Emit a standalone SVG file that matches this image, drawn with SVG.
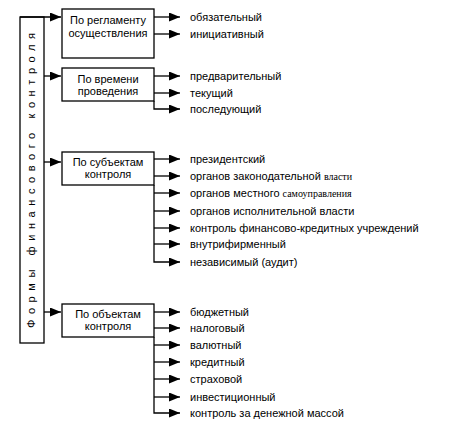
<svg xmlns="http://www.w3.org/2000/svg" width="474" height="432" viewBox="0 0 474 432">
<style>
.ln{fill:none;stroke:#000;stroke-width:1.3}
.bx{fill:#fff;stroke:#000;stroke-width:1.3}
.t{font-family:"Liberation Sans",Arial,sans-serif;font-size:11px;fill:#000}
.c{text-anchor:middle}
.s{font-family:"Liberation Serif","Times New Roman",serif;font-size:10px}
</style>
<defs>
<marker id="ar" markerUnits="userSpaceOnUse" markerWidth="12" markerHeight="10" refX="11" refY="4.5" orient="auto">
<path d="M0,0 L11,4.5 L0,9 z" fill="#000"/>
</marker>
</defs>
<g id="root">
<rect class="bx" x="20" y="17" width="24" height="326"/>
<text class="t" transform="translate(35,328) rotate(-90)" font-size="10" textLength="295" lengthAdjust="spacing">Формы финансового контроля</text>
</g>
<g id="connectors">
<path class="ln" d="M20,17 H61" marker-end="url(#ar)"/>
<path class="ln" d="M44,76 H61" marker-end="url(#ar)"/>
<path class="ln" d="M44,162 H61" marker-end="url(#ar)"/>
<path class="ln" d="M44,312 H61" marker-end="url(#ar)"/>
<path class="ln" d="M154,17 H180" marker-end="url(#ar)"/>
<path class="ln" d="M154,34 H180" marker-end="url(#ar)"/>
<path class="ln" d="M154,76 H180" marker-end="url(#ar)"/>
<path class="ln" d="M154,93 H180" marker-end="url(#ar)"/>
<path class="ln" d="M154,101 V109 H180" marker-end="url(#ar)"/>
<path class="ln" d="M154,159 H180" marker-end="url(#ar)"/>
<path class="ln" d="M154,176 H180" marker-end="url(#ar)"/>
<path class="ln" d="M154,185 V262 H180" marker-end="url(#ar)"/>
<path class="ln" d="M154,193 H180" marker-end="url(#ar)"/>
<path class="ln" d="M154,211 H180" marker-end="url(#ar)"/>
<path class="ln" d="M154,228 H180" marker-end="url(#ar)"/>
<path class="ln" d="M154,244 H180" marker-end="url(#ar)"/>
<path class="ln" d="M154,312 H180" marker-end="url(#ar)"/>
<path class="ln" d="M154,328 H180" marker-end="url(#ar)"/>
<path class="ln" d="M154,337 V413 H180" marker-end="url(#ar)"/>
<path class="ln" d="M154,345 H180" marker-end="url(#ar)"/>
<path class="ln" d="M154,362 H180" marker-end="url(#ar)"/>
<path class="ln" d="M154,379 H180" marker-end="url(#ar)"/>
<path class="ln" d="M154,397 H180" marker-end="url(#ar)"/>
</g>
<g id="n1">
<rect class="bx" x="62" y="9" width="92" height="49"/>
<text class="t c" x="108" y="24">По регламенту</text>
<text class="t c" x="108" y="37">осуществления</text>
</g>
<g id="n2">
<rect class="bx" x="62" y="68" width="92" height="33"/>
<text class="t c" x="108" y="83">По времени</text>
<text class="t c" x="108" y="95">проведения</text>
</g>
<g id="n3">
<rect class="bx" x="62" y="152" width="92" height="33"/>
<text class="t c" x="108" y="166">По субъектам</text>
<text class="t c" x="108" y="178">контроля</text>
</g>
<g id="n4">
<rect class="bx" x="62" y="304" width="92" height="33"/>
<text class="t c" x="108" y="318">По объектам</text>
<text class="t c" x="108" y="330">контроля</text>
</g>
<g id="leaves">
<text class="t" x="190" y="21">обязательный</text>
<text class="t" x="190" y="38">инициативный</text>
<text class="t" x="190" y="80">предварительный</text>
<text class="t" x="190" y="97">текущий</text>
<text class="t" x="190" y="113">последующий</text>
<text class="t" x="190" y="163">президентский</text>
<text class="t" x="190" y="180">органов законодательной <tspan class="s">власти</tspan></text>
<text class="t" x="190" y="197">органов местного <tspan class="s">самоуправления</tspan></text>
<text class="t" x="190" y="215">органов исполнительной власти</text>
<text class="t" x="190" y="232">контроль финансово-кредитных учреждений</text>
<text class="t" x="190" y="248">внутрифирменный</text>
<text class="t" x="190" y="266">независимый (аудит)</text>
<text class="t" x="190" y="316">бюджетный</text>
<text class="t" x="190" y="332">налоговый</text>
<text class="t" x="190" y="349">валютный</text>
<text class="t" x="190" y="366">кредитный</text>
<text class="t" x="190" y="383">страховой</text>
<text class="t" x="190" y="401">инвестиционный</text>
<text class="t" x="190" y="417">контроль за денежной массой</text>
</g>
</svg>
